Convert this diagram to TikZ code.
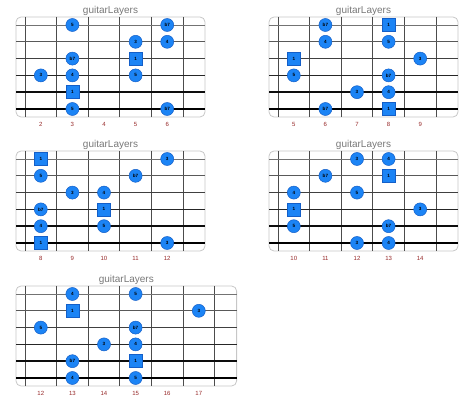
\documentclass[tikz,border=0pt]{standalone}
\usepackage{fontspec}
\setmainfont{Liberation Sans}
\definecolor{noteblue}{RGB}{28,132,245}
\definecolor{noteedge}{RGB}{20,95,200}
\definecolor{fretred}{RGB}{150,40,40}
\definecolor{titlegray}{RGB}{120,120,120}

% one fretboard: name, x, y, first fret, number of frets, notes (string/fret/text/style)
\newcommand{\board}[6]{%
  \begin{scope}[shift={(#2,#3)}]
    \pgfmathsetmacro\w{31.6*#5}
    \draw[boxline] (-9,-8) rectangle (\w+22,92);
    \foreach \i in {0,...,#5}
      \draw[fretline] (\i*31.6,-8) -- (\i*31.6,92);
    \foreach \s/\lw/\c in {0/0.5/55,1/0.7/65,2/0.9/75,3/1.2/85,4/1.6/95,5/1.9/100}
      \draw[line width=\lw pt, black!\c] (-9,\s*16.8) -- (\w+22,\s*16.8);
    \node[boardtitle] (#1-title) at ({(\w+13)/2},-14.5) {guitarLayers};
    \foreach \i in {1,...,#5}
      \node[fretnum] (#1-num\i) at ({(\i-0.5)*31.6},99) {\the\numexpr#4+\i-1\relax};
    \foreach \s/\f/\t/\k in {#6}
      \node[\k] (#1-\s-\f) at ({(\f-#4+0.5)*31.6},{(\s-1)*16.8}) {\t};
  \end{scope}}

\begin{document}
\begin{tikzpicture}[x=1pt,y=-1pt,
  boxline/.style={draw=black!22, line width=0.8pt, rounded corners=5pt},
  fretline/.style={draw=black!70, line width=0.9pt},
  note/.style={circle, fill=noteblue, draw=noteedge, line width=0.5pt, minimum size=13pt, inner sep=0pt, font=\bfseries\fontsize{4.6}{5}\selectfont},
  root/.style={note, rectangle},
  fretnum/.style={text=fretred, font=\fontsize{6}{6}\selectfont},
  boardtitle/.style={text=titlegray, font=\fontsize{10}{10}\selectfont}]
  \useasboundingbox (0,0) rectangle (474,403);

  \board{a}{25}{25}{2}{5}{1/3/5/note, 1/6/b7/note, 2/5/3/note, 2/6/4/note,
    3/3/b7/note, 3/5/1/root, 4/2/3/note, 4/3/4/note, 4/5/5/note,
    5/3/1/root, 6/3/5/note, 6/6/b7/note}
  \board{b}{278}{25}{5}{5}{1/6/b7/note, 1/8/1/root, 2/6/4/note, 2/8/5/note,
    3/5/1/root, 3/9/3/note, 4/5/5/note, 4/8/b7/note,
    5/7/3/note, 5/8/4/note, 6/6/b7/note, 6/8/1/root}
  \board{c}{25}{159}{8}{5}{1/8/1/root, 1/12/3/note, 2/8/5/note, 2/11/b7/note,
    3/9/3/note, 3/10/4/note, 4/8/b7/note, 4/10/1/root,
    5/8/4/note, 5/10/5/note, 6/8/1/root, 6/12/3/note}
  \board{d}{278}{159}{10}{5}{1/12/3/note, 1/13/4/note, 2/11/b7/note, 2/13/1/root,
    3/10/4/note, 3/12/5/note, 4/10/1/root, 4/14/3/note,
    5/10/5/note, 5/13/b7/note, 6/12/3/note, 6/13/4/note}
  \board{e}{25}{294}{12}{6}{1/13/4/note, 1/15/5/note, 2/13/1/root, 2/17/3/note,
    3/12/5/note, 3/15/b7/note, 4/14/3/note, 4/15/4/note,
    5/13/b7/note, 5/15/1/root, 6/13/4/note, 6/15/5/note}
\end{tikzpicture}
\end{document}
